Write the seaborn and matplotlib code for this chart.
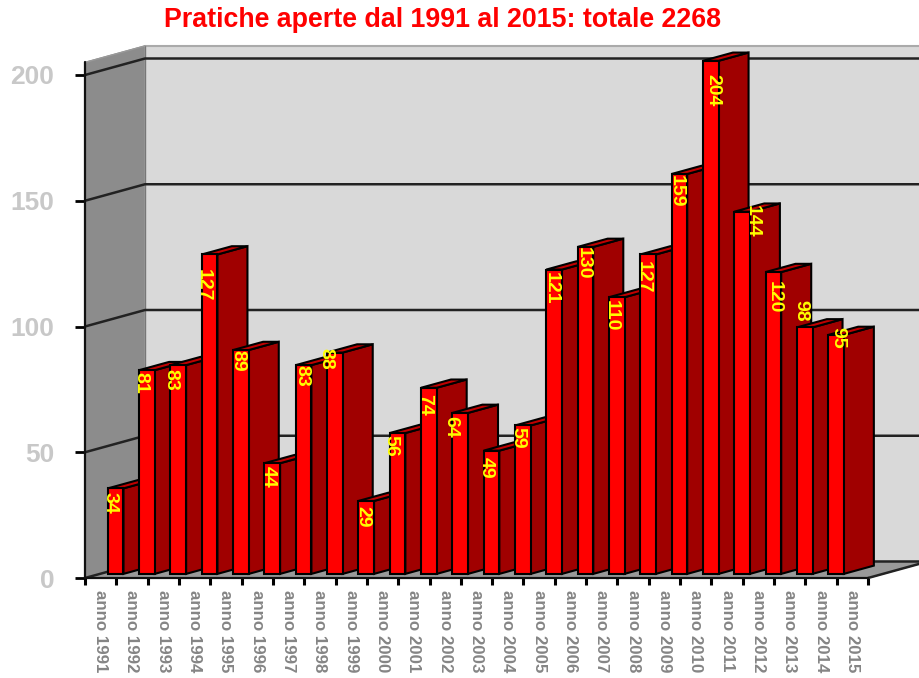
import numpy as np
import matplotlib
matplotlib.use("Agg")
import matplotlib.pyplot as plt
import seaborn as sns

years = ["anno %d" % y for y in range(1991, 2016)]
# 2015 has no bar in the original, the 24 values already add up to 2268
values = [34, 81, 83, 127, 89, 44, 83, 88, 29, 56, 74, 64, 49, 59, 121, 130,
          110, 127, 159, 204, 144, 120, 98, 95, np.nan]
y_ticks = [0, 50, 100, 150, 200]
title = "Pratiche aperte dal 1991 al 2015: totale 2268"

# hand placed value labels, pixels from the top left corner of the bar front
label_dx = [2, 2, 0, 1, 5, 4, 6, -1, 4, 1, 4, -2, 3, 3, 5, 6, 2, 3, 5, 10, 18, 9, 4, 10]
label_dy = [15, 13, 15, 31, 11, 14, 11, 6, 16, 13, 17, 14, 17, 12, 19, 16, 18, 23, 17, 29, 10, 25, -17, 3]

sns.set_style("white")
plt.rcParams["font.family"] = ["Liberation Sans", "DejaVu Sans"]

fig = plt.figure(figsize=(9.19, 6.78), dpi=100)
ax = fig.add_axes([85 / 919, (678 - 578) / 678, 783 / 919, 503 / 678])

sns.barplot(x=years, y=values, order=years, width=0.5, color="#ff0000", saturation=1,
            edgecolor="black", linewidth=1.5, ax=ax, zorder=5)
bars = [p for p in ax.containers[0] if p.get_height() > 0]

xmin, xmax = -0.5, 24.5
ax.set_xlim(xmin, xmax)
ax.set_ylim(0, 200)

# 3d depth of the box, pixels turned into data units
px_x = (xmax - xmin) / 783
px_y = 200 / 503
DX = 60 * px_x
DY = 16.5 * px_y
wall_top = 205

# walls and floor
ax.fill([xmin, xmin + DX, xmin + DX, xmin], [0, DY, wall_top + DY, wall_top],
        color="#8c8c8c", clip_on=False, zorder=1)
ax.fill([xmin + DX, xmax + DX, xmax + DX, xmin + DX], [DY, DY, wall_top + DY, wall_top + DY],
        color="#d9d9d9", clip_on=False, zorder=1)
ax.fill([xmin, xmax, xmax + DX, xmin + DX], [0, 0, DY, DY],
        color="#999999", clip_on=False, zorder=1)
ax.plot([xmin + DX, xmax + DX], [wall_top + DY] * 2, color="#aaaaaa", lw=1.5, clip_on=False, zorder=2)
ax.plot([xmin + DX, xmin + DX], [DY, wall_top + DY], color="#777777", lw=1, clip_on=False, zorder=2)
ax.plot([xmin, xmin + DX], [wall_top, wall_top + DY], color="#999999", lw=1, clip_on=False, zorder=2)

for y in y_ticks:
    ax.plot([xmin, xmin + DX, xmax + DX], [y, y + DY, y + DY], color="#222222", lw=1.8,
            clip_on=False, zorder=2, solid_joinstyle="miter")
ax.plot([xmax, xmax + DX], [0, DY], color="#222222", lw=1.8, clip_on=False, zorder=2)

# push bars into the box and add the side and top faces
for i, bar in enumerate(bars):
    front_dx = 0.25 * DX
    front_dy = 0.25 * DY
    side_dx = 0.5 * DX
    side_dy = 0.5 * DY
    x0 = bar.get_x() + front_dx
    x1 = x0 + bar.get_width()
    y0 = front_dy
    y1 = values[i] + front_dy
    bar.set_x(x0)
    bar.set_y(y0)
    bar.set_clip_on(False)
    z = 5 + i
    bar.set_zorder(z + 0.2)
    ax.fill([x1, x1 + side_dx, x1 + side_dx, x1], [y0, y0 + side_dy, y1 + side_dy, y1],
            facecolor="#a00000", edgecolor="black", lw=1.5, clip_on=False, zorder=z)
    ax.fill([x0, x1, x1 + side_dx, x0 + side_dx], [y1, y1, y1 + side_dy, y1 + side_dy],
            facecolor="#c00000", edgecolor="black", lw=1.5, clip_on=False, zorder=z + 0.1)
    ax.annotate(str(values[i]), xy=(x0, y1), xytext=(label_dx[i], -label_dy[i]),
                textcoords="offset pixels", rotation=-90, ha="center", va="center",
                color="#ffff00", fontsize=14, fontweight="bold", zorder=100,
                annotation_clip=False)

# axes
for side in ["top", "right"]:
    ax.spines[side].set_visible(False)
for side in ["left", "bottom"]:
    ax.spines[side].set_color("#111111")
    ax.spines[side].set_linewidth(1.6)
    ax.spines[side].set_zorder(50)
ax.plot([xmin, xmin], [200, wall_top], color="#111111", lw=1.6, clip_on=False, zorder=50)

ax.set_xticks(range(len(years)))
ax.set_xticklabels(years, rotation=-90, ha="center", va="top", fontsize=12.2,
                   fontweight="bold", color="#858585")
ax.tick_params(axis="x", which="major", length=0, pad=9)
ax.set_xticks(np.arange(xmin, xmax + 1), minor=True)
ax.tick_params(axis="x", which="minor", bottom=True, length=5, width=2.2, color="black")

ax.set_yticks(y_ticks)
ax.set_yticklabels(y_ticks, fontsize=19, fontweight="bold", color="#c8c8c8")
ax.tick_params(axis="y", left=True, length=7, width=2, color="black", pad=15)
ax.set_xlabel("")
ax.set_ylabel("")

fig.text(442 / 919, 1 - 20 / 678, title, color="#ff0000", fontsize=19.3, fontweight="bold",
         ha="center", va="center")

fig.savefig("out.png", dpi=100)
